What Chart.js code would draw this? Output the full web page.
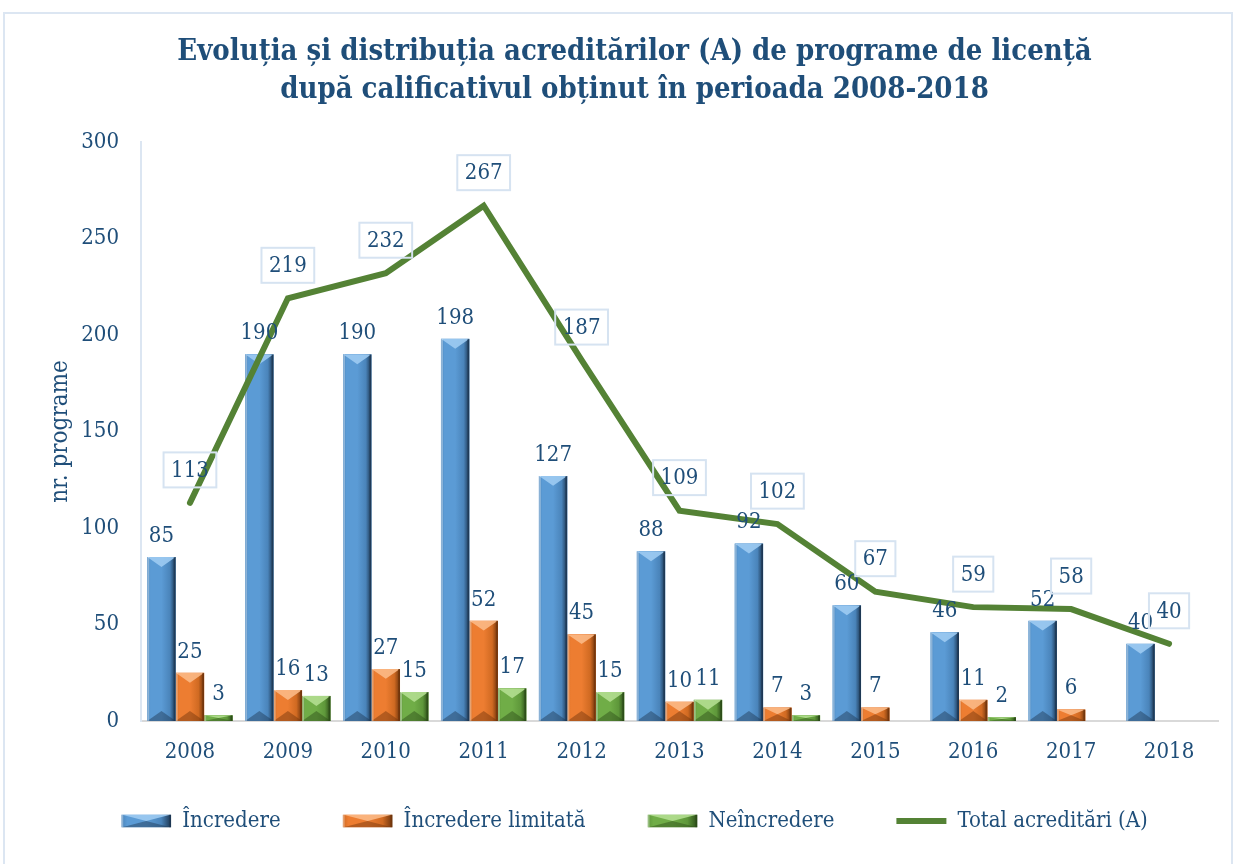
<!DOCTYPE html>
<html>
<head>
<meta charset="utf-8">
<script src="https://cdn.jsdelivr.net/npm/chart.js@4.4.1/dist/chart.umd.min.js"></script>
<style>
  html, body { margin: 0; padding: 0; background: #fff; }
  #wrap { width: 1237px; height: 864px; position: relative; }
</style>
</head>
<body>
<div id="wrap"><canvas id="c" width="1237" height="864"></canvas></div>
<script>
const years = ['2008','2009','2010','2011','2012','2013','2014','2015','2016','2017','2018'];
const incredere = [85,190,190,198,127,88,92,60,46,52,40];
const incredereLimitata = [25,16,27,52,45,10,7,7,11,6,null];
const neincredere = [3,13,15,17,15,11,3,null,2,null,null];
const totalAcreditari = [113,219,232,267,187,109,102,67,59,58,40];
const yTicks = [0,50,100,150,200,250,300];

const TXT = '#1F4E79';
const SERIF = '"DejaVu Serif Condensed", "DejaVu Serif", serif';

const palettes = [
  {light:'#9DCBF2', main:'#5B9BD5', mid:'#4A84BA', dark:'#1C3550'},
  {light:'#FBB986', main:'#ED7D31', mid:'#D06A22', dark:'#6E340C'},
  {light:'#B2DE90', main:'#70AD47', mid:'#5E973A', dark:'#2A4A17'}
];

function bevel(ctx, x0, y0, w, h, p) {
  if (h <= 0 || w <= 0) return;
  ctx.save();
  ctx.beginPath(); ctx.rect(x0, y0, w, h); ctx.clip();
  const g = ctx.createLinearGradient(x0, 0, x0 + w, 0);
  g.addColorStop(0, p.mid);
  g.addColorStop(0.12, p.main);
  g.addColorStop(0.5, p.main);
  g.addColorStop(0.8, p.mid);
  g.addColorStop(1, p.dark);
  ctx.fillStyle = g;
  ctx.fillRect(x0, y0, w, h);
  const d = Math.min(w * 0.35, h / 2);
  ctx.beginPath();
  ctx.moveTo(x0, y0); ctx.lineTo(x0 + w, y0); ctx.lineTo(x0 + w / 2, y0 + d); ctx.closePath();
  ctx.fillStyle = p.light; ctx.globalAlpha = 0.9; ctx.fill();
  ctx.beginPath();
  ctx.moveTo(x0, y0 + h); ctx.lineTo(x0 + w, y0 + h); ctx.lineTo(x0 + w / 2, y0 + h - d); ctx.closePath();
  ctx.fillStyle = p.dark; ctx.globalAlpha = 0.45; ctx.fill();
  ctx.globalAlpha = 0.35; ctx.fillStyle = '#ffffff';
  ctx.fillRect(x0, y0, 2, h);
  ctx.globalAlpha = 0.6; ctx.fillStyle = p.dark;
  ctx.fillRect(x0 + w - 2, y0, 2, h);
  ctx.restore();
}

const decorPlugin = {
  id: 'decor',
  beforeDraw(chart) {
    const ctx = chart.ctx;
    ctx.save();
    ctx.fillStyle = '#fff';
    ctx.fillRect(0, 0, chart.width, chart.height);
    ctx.strokeStyle = '#DCE6F2';
    ctx.lineWidth = 2;
    ctx.strokeRect(4, 13, 1228, 860);
    ctx.restore();
  },
  afterDatasetDraw(chart, args) {
    const di = args.index;
    if (di > 2) return;
    const ctx = chart.ctx;
    const meta = chart.getDatasetMeta(di);
    meta.data.forEach((el, i) => {
      const v = chart.data.datasets[di].data[i];
      if (v === null || v === undefined) return;
      const w = el.width, x0 = el.x - w / 2, y0 = el.y, h = el.base - el.y;
      bevel(ctx, x0, y0, w, h, palettes[di]);
    });
  },
  afterDraw(chart) {
    const ctx = chart.ctx;
    ctx.save();
    ctx.font = '22px ' + SERIF;
    ctx.fillStyle = TXT;
    ctx.textAlign = 'center';
    const xs = chart.scales.x;
    ctx.textBaseline = 'middle';
    years.forEach((lab, i) => {
      ctx.fillText(lab, xs.getPixelForTick(i), xs.top + 31);
    });
    ctx.textBaseline = 'alphabetic';
    for (let di = 0; di < 3; di++) {
      const meta = chart.getDatasetMeta(di);
      meta.data.forEach((el, i) => {
        const v = chart.data.datasets[di].data[i];
        if (v === null || v === undefined) return;
        ctx.fillText(String(v), el.x, el.y - 15);
      });
    }
    const lm = chart.getDatasetMeta(3);
    lm.data.forEach((pt, i) => {
      const s = String(totalAcreditari[i]);
      const tw = ctx.measureText(s).width;
      const bw = tw + 15, bh = 35;
      const cx = pt.x, cy = pt.y - 33;
      ctx.strokeStyle = '#D6E3F1';
      ctx.lineWidth = 2;
      ctx.strokeRect(cx - bw / 2, cy - bh / 2, bw, bh);
      ctx.fillStyle = TXT;
      ctx.textBaseline = 'middle';
      ctx.fillText(s, cx, cy + 1);
    });
    const lg = chart.legend;
    if (lg && lg.legendHitBoxes && lg.legendItems) {
      lg.legendItems.forEach((item, k) => {
        const di = item.datasetIndex;
        if (di > 2) return;
        const hb = lg.legendHitBoxes[k];
        const bw = 50, bh = 13;
        const y0 = hb.top + (hb.height - bh) / 2;
        ctx.fillStyle = '#fff';
        ctx.fillRect(hb.left - 1, y0 - 1, bw + 2, bh + 2);
        bevel(ctx, hb.left, y0, bw, bh, palettes[di]);
      });
    }
    ctx.restore();
  }
};

new Chart(document.getElementById('c'), {
  type: 'bar',
  data: {
    labels: years,
    datasets: [
      { label: 'Încredere', data: incredere, backgroundColor: '#5B9BD5', pointStyle: 'rect', order: 2 },
      { label: 'Încredere limitată', data: incredereLimitata, backgroundColor: '#ED7D31', pointStyle: 'rect', order: 2 },
      { label: 'Neîncredere', data: neincredere, backgroundColor: '#70AD47', pointStyle: 'rect', order: 2 },
      { label: 'Total acreditări (A)', type: 'line', data: totalAcreditari, borderColor: '#548235', backgroundColor: '#548235',
        borderWidth: 6, pointRadius: 0, borderCapStyle: 'round', borderJoinStyle: 'miter', tension: 0, pointStyle: 'line', order: 1 }
    ]
  },
  options: {
    responsive: false,
    animation: false,
    devicePixelRatio: 1,
    datasets: { bar: { categoryPercentage: 0.873, barPercentage: 1.0 } },
    layout: { padding: { left: 51, right: 19, top: 0, bottom: 22 } },
    plugins: {
      title: {
        display: true,
        text: ['Evoluția și distribuția acreditărilor (A) de programe de licență', 'după calificativul obținut în perioada 2008-2018'],
        color: TXT,
        font: { family: SERIF, size: 29, weight: 'bold', lineHeight: 1.31 },
        padding: { top: 33, bottom: 33 }
      },
      legend: {
        position: 'bottom',
        labels: {
          usePointStyle: true,
          pointStyleWidth: 50,
          boxHeight: 13,
          color: TXT,
          font: { family: SERIF, size: 22 },
          padding: 62,
          sort: (a, b) => a.datasetIndex - b.datasetIndex
        }
      },
      tooltip: { enabled: false }
    },
    scales: {
      x: {
        afterFit(scale) { scale.height = 27; },
        grid: { display: false, drawTicks: false },
        border: { display: true, color: '#D9D9D9', width: 2 },
        ticks: { display: false }
      },
      y: {
        min: 0, max: 300,
        afterBuildTicks(scale) { scale.ticks = yTicks.map(v => ({ value: v })); },
        afterFit(scale) { scale.width = 90; },
        grid: { display: false, drawTicks: false },
        border: { display: true, color: '#DCE6F2', width: 2 },
        ticks: { color: TXT, font: { family: SERIF, size: 22 }, padding: 22 },
        title: { display: true, text: 'nr. programe', color: TXT, font: { family: SERIF, size: 24 }, padding: { top: -5, bottom: 8 } }
      }
    }
  },
  plugins: [decorPlugin]
});
</script>
</body>
</html>
